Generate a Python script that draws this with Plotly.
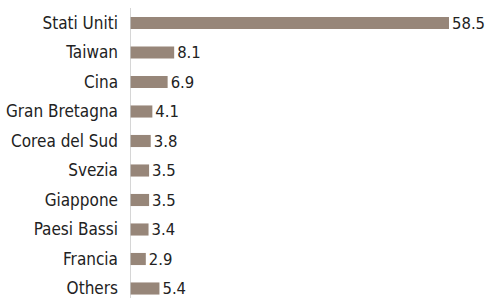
import plotly.graph_objects as go

countries = ["Stati Uniti", "Taiwan", "Cina", "Gran Bretagna", "Corea del Sud",
             "Svezia", "Giappone", "Paesi Bassi", "Francia", "Others"]
values = [58.5, 8.1, 6.9, 4.1, 3.8, 3.5, 3.5, 3.4, 2.9, 5.4]
value_labels = ["58.5", "8.1", "6.9", "4.1", "3.8", "3.5", "3.5", "3.4", "2.9", "5.4"]

FONT = "DejaVu Sans Condensed, Liberation Sans Narrow, Arial Narrow, sans-serif"

W, H = 488, 298
left = 130
px_per_unit = 319 / 58.5
plot_w = W - left
xmax = plot_w / px_per_unit

step = 29.5
top_center = 23
ytop = -(top_center / step)
ybot = ytop + H / step

fig = go.Figure(go.Bar(
    x=values, y=list(range(len(countries))), orientation="h",
    marker=dict(color="#978679", line=dict(width=0)),
    width=0.41,
    text=value_labels, textposition="outside", constraintext="none",
    textfont=dict(family=FONT, size=16.5, color="#222222"),
    cliponaxis=False,
    hoverinfo="skip",
))

fig.add_shape(type="line", xref="x", yref="paper", x0=0, x1=0, y0=0, y1=1 - 8 / H,
              line=dict(color="#c9c9c9", width=1.5))

fig.update_layout(
    width=W, height=H,
    margin=dict(l=left, r=0, t=0, b=0),
    paper_bgcolor="white", plot_bgcolor="white",
    showlegend=False,
    font=dict(family=FONT, size=17, color="#222222"),
    xaxis=dict(range=[0, xmax], visible=False, fixedrange=True),
    yaxis=dict(range=[ybot, ytop], tickmode="array", tickvals=list(range(len(countries))),
               ticktext=countries, showgrid=False, zeroline=False, showline=False,
               ticks="", ticklen=0, ticklabelstandoff=11, ticklabeloverflow="allow",
               automargin=False, fixedrange=True,
               tickfont=dict(family=FONT, size=17, color="#222222")),
)

fig.write_html("out.html", config={"displayModeBar": False, "staticPlot": True},
               post_script="document.body.style.margin='0';document.body.style.padding='0';")
